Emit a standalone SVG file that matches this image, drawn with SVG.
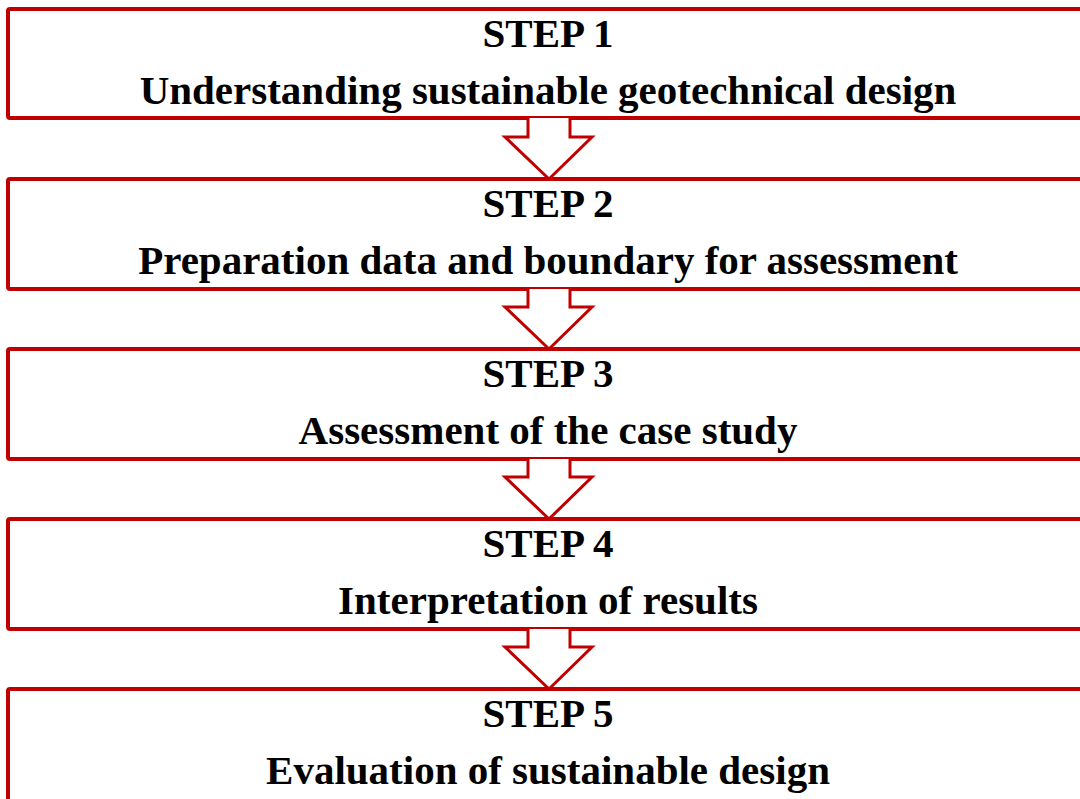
<svg xmlns="http://www.w3.org/2000/svg" width="1080" height="799" viewBox="0 0 1080 799">
<style>
.box{fill:#fff;stroke:#C00000;stroke-width:4;}
.arr{fill:#fff;stroke:#C00000;stroke-width:3;stroke-linejoin:miter;}
text{font-family:"Liberation Serif","Times New Roman",serif;font-weight:bold;font-size:41px;fill:#000;text-anchor:middle;}
</style>
<rect width="1080" height="799" fill="#fff"/>
<g id="step1"><rect class="box" x="8" y="9" width="1090" height="109" rx="2"/><text x="548" y="47">STEP 1</text><text x="548" y="104">Understanding sustainable geotechnical design</text></g>
<g id="step2"><rect class="box" x="8" y="179" width="1090" height="110" rx="2"/><text x="548" y="217">STEP 2</text><text x="548" y="274">Preparation data and boundary for assessment</text></g>
<g id="step3"><rect class="box" x="8" y="349" width="1090" height="110" rx="2"/><text x="548" y="387">STEP 3</text><text x="548" y="444">Assessment of the case study</text></g>
<g id="step4"><rect class="box" x="8" y="519" width="1090" height="110" rx="2"/><text x="548" y="557">STEP 4</text><text x="548" y="614">Interpretation of results</text></g>
<g id="step5"><rect class="box" x="8" y="689" width="1090" height="130" rx="2"/><text x="548" y="727">STEP 5</text><text x="548" y="784">Evaluation of sustainable design</text></g>
<g id="connectors">
<path class="arr" d="M528,118 V137 H505 L549,179 L592,137 H570 V118"/>
<path class="arr" d="M528,289 V307 H505 L549,349 L592,307 H570 V289"/>
<path class="arr" d="M528,459 V477 H505 L549,519 L592,477 H570 V459"/>
<path class="arr" d="M528,629 V647 H505 L549,689 L592,647 H570 V629"/>
</g>
</svg>
